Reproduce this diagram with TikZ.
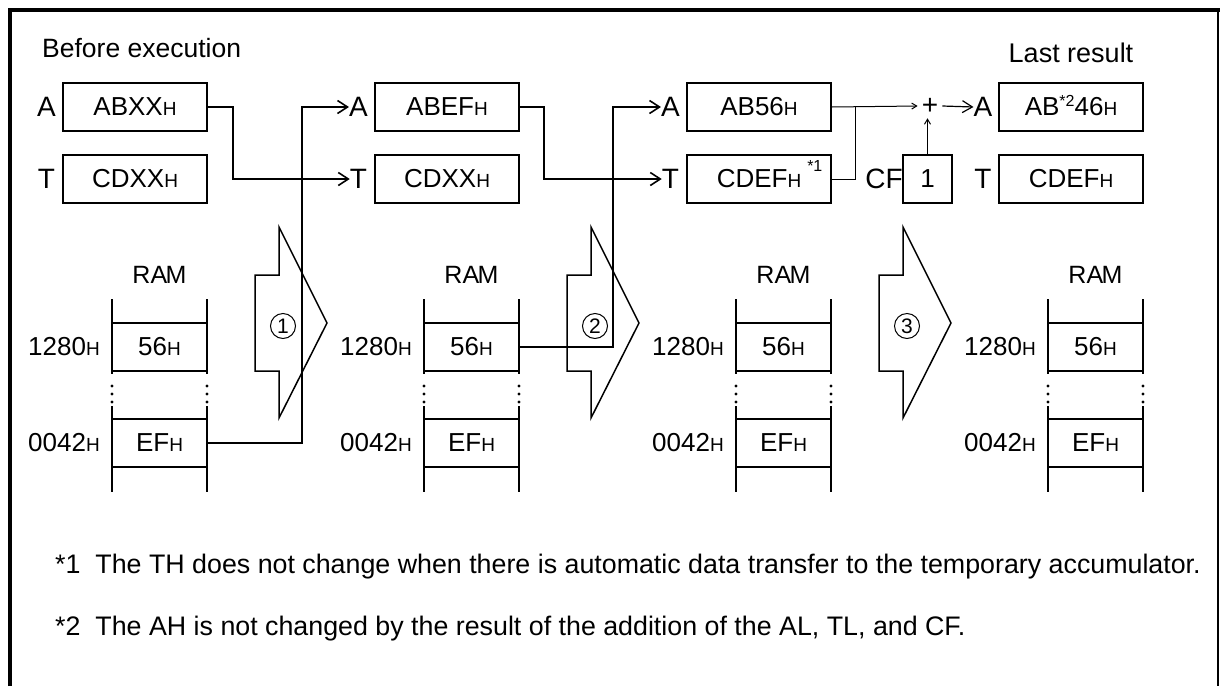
\documentclass[tikz,border=0pt]{standalone}
\usepackage{fontspec}
\setmainfont{Liberation Sans}
\usetikzlibrary{arrows.meta,calc}
\newcommand\fsz[1]{\fontsize{#1}{#1}\selectfont}
\newcommand\hsub{{\fsz{19}H}}
\begin{document}
\begin{tikzpicture}[x=1pt,y=-1pt,
  reg/.style={draw, line width=1.5pt, minimum width=144pt, minimum height=48pt, inner sep=0pt, font=\fsz{26}},
  lbl/.style={inner sep=0pt, font=\fsz{28}},
  cell/.style={minimum width=95pt, minimum height=48pt, inner sep=0pt, font=\fsz{26}},
  ramline/.style={line width=1.5pt},
  conn/.style={line width=1.8pt, -{Straight Barb[length=10pt,width=13pt,line width=1.6pt]}},
  thinconn/.style={line width=1pt, -{Straight Barb[length=5pt,width=6pt,line width=1pt]}},
  longconn/.style={line width=1.2pt, -{Straight Barb[length=10pt,width=12pt,line width=1.2pt]}},
  bigarrow/.style={line width=1.5pt, line join=miter},
  stepnum/.style={circle, draw, line width=1pt, minimum size=25pt, inner sep=0pt, font=\fsz{21}},
  note/.style={anchor=base west, inner sep=0pt, font=\fsz{26.8}}]
\useasboundingbox (0,0) rectangle (1224,686);
% frame
\draw[line width=4pt] (10,686) -- (10,10) -- (1220,10);
\draw[line width=2.5pt] (1218,10) -- (1218,686);
% headings
\node[anchor=west, inner sep=0pt, font=\fsz{26.5}] (before) at (42,48) {Before execution};
\node[inner sep=0pt, font=\fsz{27}] (last) at (1071,53) {Last result};
% registers
\node[reg] (A1) at (135,107) {ABXX\hsub};
\node[reg] (T1) at (135,179) {CDXX\hsub};
\node[lbl] (A1l) at (46.5,107) {A};
\node[lbl] (T1l) at (46.5,179) {T};
\node[reg] (A2) at (447,107) {ABEF\hsub};
\node[reg] (T2) at (447,179) {CDXX\hsub};
\node[lbl] (A2l) at (358.5,107) {A};
\node[lbl] (T2l) at (358.5,179) {T};
\node[reg] (A3) at (759,107) {AB56\hsub};
\node[reg] (T3) at (759,179) {CDEF\hsub\rlap{\hspace{6pt}\smash{\raisebox{16pt}{\fsz{16}*1}}}};
\node[lbl] (A3l) at (670.5,107) {A};
\node[lbl] (T3l) at (670.5,179) {T};
\node[inner sep=4pt, font=\fsz{28}] (plus) at (930,106) {+};
\node[draw, line width=1.5pt, minimum width=49pt, minimum height=48pt, inner sep=0pt, font=\fsz{26}] (CF) at (927.5,179) {1};
\node[lbl] (CFl) at (884,179) {CF};
\node[lbl] (A4l) at (983,107) {A};
\node[lbl] (T4l) at (983,179) {T};
\node[reg] (A4) at (1071,107) {AB\smash{\raisebox{9pt}{\fsz{16}*2}}46\hsub};
\node[reg] (T4) at (1071,179) {CDEF\hsub};
% RAM columns
\foreach \i/\xl in {1/112,2/424,3/736,4/1048}{
  \pgfmathsetmacro\xr{\xl+95}
  \pgfmathsetmacro\xm{\xl+47.5}
  \node[inner sep=0pt, font=\fsz{25}] (ram\i) at (\xm,275) {RA\kern-1.5ptM};
  \node[cell] (r\i a) at (\xm,347) {56\hsub};
  \node[cell] (r\i b) at (\xm,443) {EF\hsub};
  \node[anchor=east, inner sep=0pt, font=\fsz{26}] (ad\i a) at (\xl-12,347) {1280\hsub};
  \node[anchor=east, inner sep=0pt, font=\fsz{26}] (ad\i b) at (\xl-12,443) {0042\hsub};
  \foreach \y in {323,371,419,467}{\draw[ramline] (\xl,\y) -- (\xr,\y);}
  \foreach \x in {\xl,\xr}{
    \draw[ramline] (\x,299) -- (\x,374);
    \draw[ramline] (\x,406) -- (\x,492);
    \foreach \y in {386,394,402}{\fill (\x,\y) circle (1.6pt);}
  }
}
% big step arrows
\foreach \n/\L in {1/255,2/567,3/879}{
  \draw[bigarrow] (\L+24,227) -- (\L+24,275) -- (\L,275) -- (\L,371) -- (\L+24,371)
     -- (\L+24,418) -- (\L+72,323) -- cycle;
  \node[stepnum] (step\n) at (\L+28,326) {\n};
}
% connectors
\draw[conn] (A1.east) -- ++(25,0) |- (T2l.west);
\draw[conn] (r1b.east) -| ([xshift=-47pt]A2l.west) -- (A2l.west);
\draw[conn] (A2.east) -- ++(24,0) |- (T3l.west);
\draw[conn] (r2a.east) -| ([xshift=-48pt]A3l.west) -- (A3l.west);
\coordinate (join) at (855,107);
\draw[thinconn] (A3.east) -- (plus.west);
\draw[line width=1pt] (T3.east) -| (join);
\draw[thinconn] (CF.north) -- (CF.north |- plus.south);
\draw[longconn] (plus.east) -- (A4l.west);
% notes
\node[note] (n1) at (55,573) {*1\ \ The TH does not change when there is automatic data transfer to the temporary accumulator.};
\node[note] (n2) at (55,635) {*2\ \ The AH is not changed by the result of the addition of the AL, TL, and CF.};
\end{tikzpicture}
\end{document}
